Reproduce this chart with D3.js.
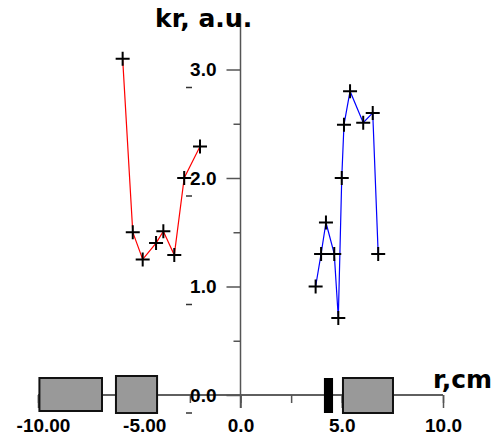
<!DOCTYPE html>
<html>
<head>
<meta charset="utf-8">
<script src="https://cdn.jsdelivr.net/npm/d3@7"></script>
<style>
  body { margin: 0; background: #fff; }
  svg { display: block; font-family: "DejaVu Sans", sans-serif; font-weight: bold; }
</style>
</head>
<body>
<svg id="chart" width="497" height="443"></svg>
<script>
// red series, left side
var redR  = [-5.82, -5.32, -4.83, -4.17, -3.81, -3.27, -2.78, -2.0]
var redK  = [3.1, 1.5, 1.25, 1.4, 1.51, 1.29, 2.0, 2.29]
// blue series, right side
var blueR = [3.71, 3.98, 4.22, 4.63, 4.83, 5.0, 5.11, 5.41, 6.06, 6.53, 6.80]
var blueK = [1.0, 1.3, 1.59, 1.3, 0.71, 2.0, 2.49, 2.8, 2.51, 2.6, 1.3]

// gray blocks along the r axis [from, to], and the black bar
var blocks   = [[-9.93, -6.84], [-6.15, -4.12], [5.06, 7.53]]
var blackBar = [4.12, 4.57]

var xTicks  = [-10, -5, 0, 5, 10]
var xLabels = ["-10.00", "-5.00", "0.0", "5.0", "10.0"]
var yTicks  = [0, 1, 2, 3]
var yLabels = ["0.0", "1.0", "2.0", "3.0"]

var svg = d3.select("#chart")

var x = d3.scaleLinear().domain([-10, 10]).range([38, 443])
var y = d3.scaleLinear().domain([0, 3]).range([395, 69.5])

var axisColor = "#555"

// ---- x axis ----
var gx = svg.append("g").attr("transform", "translate(0," + y(0) + ")")

gx.append("g")
  .call(d3.axisBottom(x).tickValues(d3.range(-10, 10.01, 2.5)).tickSize(8).tickFormat(""))
gx.append("g")
  .call(d3.axisBottom(x).tickValues(xTicks).tickSize(13).tickPadding(11)
    .tickFormat(function(d, i){ return xLabels[i] }))

gx.selectAll(".domain").attr("d", "M" + x(-10) + ",0H" + x(10))
gx.selectAll("path, line").attr("stroke", axisColor).attr("stroke-width", 1.5)
gx.selectAll("text")
  .attr("fill", "#000")
  .style("font-size", "19px")
  .attr("dx", function(d){ return d < 0 ? 5 : 0 })

// blocks sit on top of the r axis
svg.selectAll("rect.block")
  .data(blocks)
  .enter().append("rect")
    .attr("class", "block")
    .attr("x", function(d){ return x(d[0]) })
    .attr("width", function(d){ return x(d[1]) - x(d[0]) })
    .attr("y", function(d, i){ return i == 1 ? 376 : 378 })
    .attr("height", function(d, i){ return i == 1 ? 37 : (i == 0 ? 33 : 35) })
    .attr("fill", "#999")
    .attr("stroke", "#111")
    .attr("stroke-width", 2)

svg.append("rect")
  .attr("x", x(blackBar[0]))
  .attr("width", x(blackBar[1]) - x(blackBar[0]))
  .attr("y", 378)
  .attr("height", 35)
  .attr("fill", "#000")

// ---- y axis ----
var gy = svg.append("g").attr("transform", "translate(" + x(0) + ",0)")

gy.append("g")
  .call(d3.axisLeft(y).tickValues([0.5, 1.5, 2.5]).tickSize(7).tickFormat(""))
gy.append("g")
  .call(d3.axisLeft(y).tickValues(yTicks).tickSize(14).tickPadding(10)
    .tickFormat(function(d, i){ return yLabels[i] }))

gy.selectAll(".domain").remove()
gy.append("line")
  .attr("x1", 0).attr("x2", 0)
  .attr("y1", 14).attr("y2", y(0) + 13)
gy.selectAll("line").attr("stroke", axisColor).attr("stroke-width", 1.5)
gy.selectAll("text")
  .attr("fill", "#000")
  .style("font-size", "19px")

// little dashes under each y label
svg.selectAll("line.dash")
  .data(yTicks)
  .enter().append("line")
    .attr("class", "dash")
    .attr("x1", 186).attr("x2", 192)
    .attr("y1", function(d){ return y(d) + 18 })
    .attr("y2", function(d){ return y(d) + 18 })
    .attr("stroke", "#333")
    .attr("stroke-width", 1.5)

// ---- series ----
var line = d3.line()
  .x(function(d){ return x(d[0]) })
  .y(function(d){ return y(d[1]) })

function drawSeries(rs, ks, color){
  var pts = d3.zip(rs, ks)
  svg.append("path")
    .datum(pts)
    .attr("d", line)
    .attr("fill", "none")
    .attr("stroke", color)
    .attr("stroke-width", 1.2)

  svg.append("g").selectAll("path")
    .data(pts)
    .enter().append("path")
      .attr("d", function(d){
        var cx = x(d[0]), cy = y(d[1])
        return "M" + (cx - 7) + "," + cy + "H" + (cx + 7) + "M" + cx + "," + (cy - 7) + "V" + (cy + 7)
      })
      .attr("stroke", "#000")
      .attr("stroke-width", 2)
}

drawSeries(redR, redK, "#ff0000")
drawSeries(blueR, blueK, "#0000ff")

// ---- axis titles ----
svg.append("text")
  .attr("x", 155).attr("y", 27)
  .style("font-size", "25px")
  .text("kr, a.u.")

svg.append("text")
  .attr("x", 433).attr("y", 388)
  .style("font-size", "25px")
  .text("r,cm")
</script>
</body>
</html>
